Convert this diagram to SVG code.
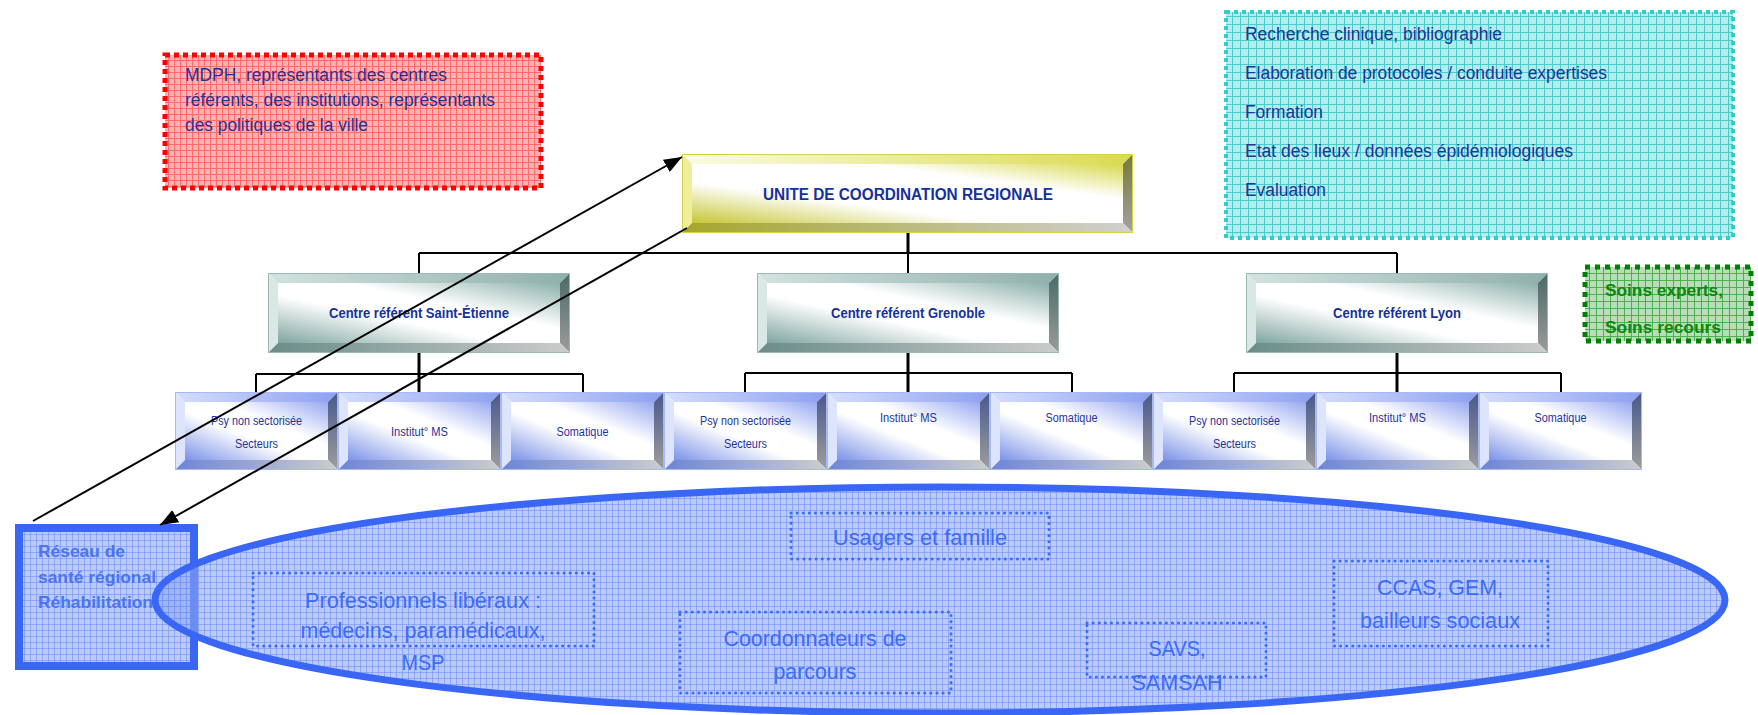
<svg xmlns="http://www.w3.org/2000/svg" xmlns:xlink="http://www.w3.org/1999/xlink" width="1758" height="715" viewBox="0 0 1758 715">
<style>
.t{font-family:"Liberation Sans",Arial,sans-serif}
.navy{fill:#1f3399;font-size:18px}
.bt{fill:#16319c;font-weight:bold}
.sm{fill:#1f3399;font-size:12px}
.el{fill:#3d6cf5;font-size:22px}
.conn{stroke:#000;stroke-width:2;fill:none}
.thick{stroke-width:3}
.dots{fill:none;stroke:#3d6cf5;stroke-width:3;stroke-linecap:round;stroke-dasharray:0.1 6}
</style>
<defs>
<pattern id="pRed" width="6" height="6" patternUnits="userSpaceOnUse"><rect width="6" height="6" fill="#f7b4b4"/><path d="M0 0.5H6M0.5 0V6" stroke="#ff6a6a" stroke-width="1"/></pattern>
<pattern id="pCyan" width="8" height="8" patternUnits="userSpaceOnUse"><rect width="8" height="8" fill="#b3ecec"/><path d="M0 0.5H8M0.5 0V8" stroke="#48cccc" stroke-width="1"/></pattern>
<pattern id="pGreen" width="7" height="7" patternUnits="userSpaceOnUse"><rect width="7" height="7" fill="#b9ddb9"/><path d="M0 0.5H7M0.5 0V7" stroke="#4fae4f" stroke-width="1"/></pattern>
<pattern id="pBlue" width="6" height="6" patternUnits="userSpaceOnUse"><rect width="6" height="6" fill="#8ea6f4" fill-opacity="0.6"/><path d="M0 0.5H6M0.5 0V6" stroke="#6a8cf2" stroke-opacity="0.55" stroke-width="1"/></pattern>
<marker id="arr" markerUnits="userSpaceOnUse" markerWidth="18" markerHeight="14" refX="18" refY="7" orient="auto"><path d="M0,0 L18,7 L0,14 z" fill="#000"/></marker>

<linearGradient id="yFace" x1="0" y1="1" x2="1" y2="0"><stop offset="0" stop-color="#c6c636"/><stop offset="0.35" stop-color="#ffffff"/><stop offset="0.7" stop-color="#ffffff"/><stop offset="1" stop-color="#d8d850"/></linearGradient>
<linearGradient id="yTop"><stop offset="0" stop-color="#fbfbe2"/><stop offset="1" stop-color="#dada52"/></linearGradient>
<linearGradient id="yRight" x1="0" y1="0" x2="0" y2="1"><stop offset="0" stop-color="#78783a"/><stop offset="1" stop-color="#a2a2a2"/></linearGradient>
<linearGradient id="yBot"><stop offset="0" stop-color="#a6a62c"/><stop offset="1" stop-color="#d0d0d0"/></linearGradient>

<linearGradient id="gFace" x1="0" y1="1" x2="1" y2="0"><stop offset="0" stop-color="#7fa5a0"/><stop offset="0.4" stop-color="#ffffff"/><stop offset="0.62" stop-color="#ffffff"/><stop offset="1" stop-color="#8db0ab"/></linearGradient>
<linearGradient id="gTop"><stop offset="0" stop-color="#d2e2df"/><stop offset="1" stop-color="#8fb0ac"/></linearGradient>
<linearGradient id="gRight" x1="0" y1="0" x2="0" y2="1"><stop offset="0" stop-color="#4a6a66"/><stop offset="1" stop-color="#9c9c9c"/></linearGradient>
<linearGradient id="gBot"><stop offset="0" stop-color="#6a8d88"/><stop offset="1" stop-color="#cccccc"/></linearGradient>

<linearGradient id="bFace" x1="0" y1="1" x2="1" y2="0"><stop offset="0" stop-color="#7c93e8"/><stop offset="0.42" stop-color="#ffffff"/><stop offset="0.62" stop-color="#ffffff"/><stop offset="1" stop-color="#98a9f0"/></linearGradient>
<linearGradient id="bTop"><stop offset="0" stop-color="#d6defc"/><stop offset="1" stop-color="#8ca0f0"/></linearGradient>
<linearGradient id="bRight" x1="0" y1="0" x2="0" y2="1"><stop offset="0" stop-color="#48588c"/><stop offset="1" stop-color="#9e9e9e"/></linearGradient>
<linearGradient id="bBot"><stop offset="0" stop-color="#6d85d8"/><stop offset="1" stop-color="#cdcdcd"/></linearGradient>

<g id="smallBox">
<rect x="10" y="10" width="143" height="58" fill="url(#bFace)"/>
<polygon points="0,0 163,0 153,10 10,10" fill="url(#bTop)"/>
<polygon points="0,0 10,10 10,68 0,78" fill="#dde4fd"/>
<polygon points="163,0 163,78 153,68 153,10" fill="url(#bRight)"/>
<polygon points="0,78 163,78 153,68 10,68" fill="url(#bBot)"/>
<rect x="0.5" y="0.5" width="162" height="77" fill="none" stroke="#a8b8f4" stroke-width="1"/>
</g>
<g id="centreBox">
<rect x="10" y="10" width="282" height="60" fill="url(#gFace)"/>
<polygon points="0,0 302,0 292,10 10,10" fill="url(#gTop)"/>
<polygon points="0,0 10,10 10,70 0,80" fill="#d9e7e5"/>
<polygon points="302,0 302,80 292,70 292,10" fill="url(#gRight)"/>
<polygon points="0,80 302,80 292,70 10,70" fill="url(#gBot)"/>
<rect x="0.5" y="0.5" width="301" height="79" fill="none" stroke="#9ab9b5" stroke-width="1"/>
</g>
</defs>

<rect width="1758" height="715" fill="#ffffff"/>

<g id="node-mdph">
<rect x="165" y="55" width="376" height="133" fill="url(#pRed)" stroke="#ff0000" stroke-width="5" stroke-dasharray="5 4"/>
<text class="t navy" x="185" y="81" textLength="262" lengthAdjust="spacingAndGlyphs">MDPH, représentants des centres</text>
<text class="t navy" x="185" y="106" textLength="310" lengthAdjust="spacingAndGlyphs">référents, des institutions, représentants</text>
<text class="t navy" x="185" y="131" textLength="183" lengthAdjust="spacingAndGlyphs">des politiques de la ville</text>
</g>

<g id="node-missions">
<rect x="1226" y="12" width="507" height="226" fill="url(#pCyan)" stroke="#33cccc" stroke-width="4" stroke-dasharray="4 4"/>
<text class="t navy" x="1245" y="40" textLength="257" lengthAdjust="spacingAndGlyphs">Recherche clinique, bibliographie</text>
<text class="t navy" x="1245" y="79" textLength="362" lengthAdjust="spacingAndGlyphs">Elaboration de protocoles / conduite expertises</text>
<text class="t navy" x="1245" y="118" textLength="78" lengthAdjust="spacingAndGlyphs">Formation</text>
<text class="t navy" x="1245" y="157" textLength="328" lengthAdjust="spacingAndGlyphs">Etat des lieux / données épidémiologiques</text>
<text class="t navy" x="1245" y="196" textLength="81" lengthAdjust="spacingAndGlyphs">Evaluation</text>
</g>

<g id="node-soins">
<rect x="1585" y="267" width="166" height="74" fill="url(#pGreen)" stroke="#008000" stroke-width="5" stroke-dasharray="5 5"/>
<text class="t" x="1605" y="296" fill="#0a8a0a" font-size="17" font-weight="bold" textLength="118" lengthAdjust="spacingAndGlyphs">Soins experts,</text>
<text class="t" x="1605" y="333" fill="#0a8a0a" font-size="17" font-weight="bold" textLength="116" lengthAdjust="spacingAndGlyphs">Soins recours</text>
</g>

<g id="node-ucr">
<rect x="692" y="164" width="431" height="59" fill="url(#yFace)"/>
<polygon points="682,154 1133,154 1123,164 692,164" fill="url(#yTop)"/>
<polygon points="682,154 692,164 692,223 682,233" fill="#eeee9c"/>
<polygon points="1133,154 1133,233 1123,223 1123,164" fill="url(#yRight)"/>
<polygon points="682,233 1133,233 1123,223 692,223" fill="url(#yBot)"/>
<rect x="682.5" y="154.5" width="450" height="78" fill="none" stroke="#d4d440" stroke-width="1"/>
<text class="t bt" x="908" y="200" font-size="16" text-anchor="middle" textLength="290" lengthAdjust="spacingAndGlyphs">UNITE DE COORDINATION REGIONALE</text>
</g>

<g id="connectors">
<path class="conn thick" d="M908 233V253"/>
<path class="conn" d="M419 253H1397M419 253V273M908 253V273M1397 253V273"/>
<path class="conn thick" d="M419 353V392M908 353V392M1397 353V392"/>
<path class="conn" d="M256 374H583M256 374V392M583 374V392"/>
<path class="conn" d="M745 373H1072M745 373V392M1072 373V392"/>
<path class="conn" d="M1234 373H1561M1234 373V392M1561 373V392"/>
</g>

<g id="node-st-etienne">
<use xlink:href="#centreBox" href="#centreBox" x="268" y="273"/>
<text class="t bt" x="419" y="318" font-size="14" text-anchor="middle" textLength="180" lengthAdjust="spacingAndGlyphs">Centre référent Saint-Étienne</text>
</g>
<g id="node-grenoble">
<use xlink:href="#centreBox" href="#centreBox" x="757" y="273"/>
<text class="t bt" x="908" y="318" font-size="14" text-anchor="middle" textLength="154" lengthAdjust="spacingAndGlyphs">Centre référent Grenoble</text>
</g>
<g id="node-lyon">
<use xlink:href="#centreBox" href="#centreBox" x="1246" y="273"/>
<text class="t bt" x="1397" y="318" font-size="14" text-anchor="middle" textLength="128" lengthAdjust="spacingAndGlyphs">Centre référent Lyon</text>
</g>

<g id="node-se-psy">
<use xlink:href="#smallBox" href="#smallBox" x="175" y="392"/>
<text class="t sm" x="256.5" y="425" text-anchor="middle" textLength="91" lengthAdjust="spacingAndGlyphs">Psy non sectorisée</text>
<text class="t sm" x="256.5" y="448" text-anchor="middle" textLength="43" lengthAdjust="spacingAndGlyphs">Secteurs</text>
</g>
<g id="node-se-ms">
<use xlink:href="#smallBox" href="#smallBox" x="338" y="392"/>
<text class="t sm" x="419.5" y="436" text-anchor="middle" textLength="57" lengthAdjust="spacingAndGlyphs">Institut° MS</text>
</g>
<g id="node-se-som">
<use xlink:href="#smallBox" href="#smallBox" x="501" y="392"/>
<text class="t sm" x="582.5" y="436" text-anchor="middle" textLength="52" lengthAdjust="spacingAndGlyphs">Somatique</text>
</g>
<g id="node-gr-psy">
<use xlink:href="#smallBox" href="#smallBox" x="664" y="392"/>
<text class="t sm" x="745.5" y="425" text-anchor="middle" textLength="91" lengthAdjust="spacingAndGlyphs">Psy non sectorisée</text>
<text class="t sm" x="745.5" y="448" text-anchor="middle" textLength="43" lengthAdjust="spacingAndGlyphs">Secteurs</text>
</g>
<g id="node-gr-ms">
<use xlink:href="#smallBox" href="#smallBox" x="827" y="392"/>
<text class="t sm" x="908.5" y="422" text-anchor="middle" textLength="57" lengthAdjust="spacingAndGlyphs">Institut° MS</text>
</g>
<g id="node-gr-som">
<use xlink:href="#smallBox" href="#smallBox" x="990" y="392"/>
<text class="t sm" x="1071.5" y="422" text-anchor="middle" textLength="52" lengthAdjust="spacingAndGlyphs">Somatique</text>
</g>
<g id="node-ly-psy">
<use xlink:href="#smallBox" href="#smallBox" x="1153" y="392"/>
<text class="t sm" x="1234.5" y="425" text-anchor="middle" textLength="91" lengthAdjust="spacingAndGlyphs">Psy non sectorisée</text>
<text class="t sm" x="1234.5" y="448" text-anchor="middle" textLength="43" lengthAdjust="spacingAndGlyphs">Secteurs</text>
</g>
<g id="node-ly-ms">
<use xlink:href="#smallBox" href="#smallBox" x="1316" y="392"/>
<text class="t sm" x="1397.5" y="422" text-anchor="middle" textLength="57" lengthAdjust="spacingAndGlyphs">Institut° MS</text>
</g>
<g id="node-ly-som">
<use xlink:href="#smallBox" href="#smallBox" x="1479" y="392"/>
<text class="t sm" x="1560.5" y="422" text-anchor="middle" textLength="52" lengthAdjust="spacingAndGlyphs">Somatique</text>
</g>

<g id="node-reseau">
<rect x="19" y="528" width="175" height="138" fill="url(#pBlue)" stroke="#3a66f6" stroke-width="8"/>
<text class="t" x="38" y="557" fill="#4a74f0" font-size="17" font-weight="bold" textLength="87" lengthAdjust="spacingAndGlyphs">Réseau de</text>
<text class="t" x="38" y="583" fill="#4a74f0" font-size="17" font-weight="bold" textLength="118" lengthAdjust="spacingAndGlyphs">santé régional</text>
<text class="t" x="38" y="608" fill="#4a74f0" font-size="17" font-weight="bold" textLength="115" lengthAdjust="spacingAndGlyphs">Réhabilitation</text>
</g>

<g id="node-partenaires">
<ellipse cx="940" cy="600" rx="785" ry="113" fill="url(#pBlue)" stroke="#3a66f6" stroke-width="7"/>
<g id="node-usagers">
<rect class="dots" x="791" y="513" width="258" height="46"/>
<text class="t el" x="920" y="545" text-anchor="middle" textLength="174" lengthAdjust="spacingAndGlyphs">Usagers et famille</text>
</g>
<g id="node-liberaux">
<rect class="dots" x="253" y="573" width="341" height="73"/>
<text class="t el" x="423" y="608" text-anchor="middle" textLength="236" lengthAdjust="spacingAndGlyphs">Professionnels libéraux :</text>
<text class="t el" x="423" y="638" text-anchor="middle" textLength="245" lengthAdjust="spacingAndGlyphs">médecins, paramédicaux,</text>
<text class="t el" x="423" y="670" text-anchor="middle" textLength="43" lengthAdjust="spacingAndGlyphs">MSP</text>
</g>
<g id="node-coord">
<rect class="dots" x="680" y="612" width="271" height="81"/>
<text class="t el" x="815" y="646" text-anchor="middle" textLength="183" lengthAdjust="spacingAndGlyphs">Coordonnateurs de</text>
<text class="t el" x="815" y="679" text-anchor="middle" textLength="83" lengthAdjust="spacingAndGlyphs">parcours</text>
</g>
<g id="node-savs">
<rect class="dots" x="1087" y="623" width="179" height="54"/>
<text class="t el" x="1177" y="656" text-anchor="middle" textLength="57" lengthAdjust="spacingAndGlyphs">SAVS,</text>
<text class="t el" x="1177" y="690" text-anchor="middle" textLength="91" lengthAdjust="spacingAndGlyphs">SAMSAH</text>
</g>
<g id="node-ccas">
<rect class="dots" x="1334" y="561" width="214" height="85"/>
<text class="t el" x="1440" y="595" text-anchor="middle" textLength="126" lengthAdjust="spacingAndGlyphs">CCAS, GEM,</text>
<text class="t el" x="1440" y="628" text-anchor="middle" textLength="160" lengthAdjust="spacingAndGlyphs">bailleurs sociaux</text>
</g>
</g>

<g id="arrows">
<path class="conn" d="M33 521L682 157" marker-end="url(#arr)"/>
<path class="conn" d="M687 228L160 525" marker-end="url(#arr)"/>
</g>
</svg>
